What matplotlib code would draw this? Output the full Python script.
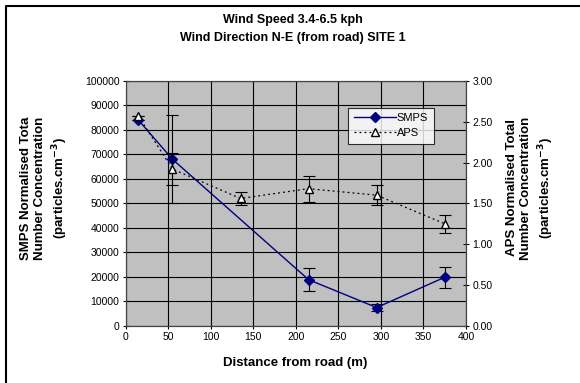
import matplotlib.pyplot as plt
from matplotlib.lines import Line2D

plt.rcParams['font.family'] = ['Liberation Sans', 'DejaVu Sans']

distance = [15, 55, 215, 295, 375]
smps = [84000, 68000, 18800, 7400, 19800]
smps_err = [0, 18000, 4600, 1500, 4200]

aps_distance = [15, 55, 135, 215, 295, 375]
aps = [2.57, 1.92, 1.56, 1.68, 1.60, 1.25]
aps_err = [0, 0.20, 0.085, 0.16, 0.12, 0.11]

x_ticks = list(range(0, 401, 50))
smps_ticks = list(range(0, 100001, 10000))
aps_ticks = [0.0, 0.5, 1.0, 1.5, 2.0, 2.5, 3.0]

fig = plt.figure(figsize=(5.8, 3.83), dpi=100)
ax = fig.add_axes([125.7 / 580, 1 - 325.7 / 383, (466 - 125.7) / 580, (325.7 - 81) / 383])
ax2 = ax.twinx()

ax.set_facecolor('#c0c0c0')
ax.set_xlim(0, 400)
ax.set_ylim(0, 100000)
ax2.set_ylim(0, 3)
ax.set_xticks(x_ticks)
ax.set_yticks(smps_ticks)
ax2.set_yticks(aps_ticks)
ax2.set_yticklabels(['%.2f' % v for v in aps_ticks])
ax.grid(True, color='black', linewidth=0.8)
ax.set_axisbelow(True)

for a in (ax, ax2):
    a.tick_params(direction='inout', length=5, width=0.8, labelsize=7.5, pad=2)
    for s in a.spines.values():
        s.set_color('#444444')

# SMPS on the left axis
ax.errorbar(distance, smps, yerr=smps_err, color='#000080', linewidth=1.0,
            marker='D', markersize=5, markerfacecolor='#000080', markeredgecolor='#000080',
            ecolor='black', elinewidth=0.8, capsize=4, capthick=0.8, zorder=3)

# APS on the right axis
ax2.errorbar(aps_distance, aps, yerr=aps_err, color='black', linewidth=0.9, linestyle=(0, (1.5, 2.5)),
             marker='^', markersize=6, markerfacecolor='white', markeredgecolor='black',
             ecolor='black', elinewidth=0.8, capsize=4, capthick=0.8, zorder=3)

fig.text(293 / 580, 1 - 20 / 383, 'Wind Speed 3.4-6.5 kph', ha='center', va='center',
         fontsize=9, fontweight='bold')
fig.text(293 / 580, 1 - 38 / 383, 'Wind Direction N-E (from road) SITE 1', ha='center', va='center',
         fontsize=9, fontweight='bold')

fig.text(45 / 580, 1 - 188 / 383,
         'SMPS Normalised Tota\nNumber Concentration\n(particles.cm$^{\\mathbf{-3}}$)',
         rotation=90, ha='center', va='center', fontsize=9.5, fontweight='bold', linespacing=1.3)
fig.text(531 / 580, 1 - 188 / 383,
         'APS Normalised Total\nNumber Concentration\n(particles.cm$^{\\mathbf{-3}}$)',
         rotation=90, ha='center', va='center', fontsize=9.5, fontweight='bold', linespacing=1.3)
fig.text(295 / 580, 1 - 363 / 383, 'Distance from road (m)', ha='center', va='center',
         fontsize=9.5, fontweight='bold')

handles = [
    Line2D([], [], color='#000080', linewidth=1.0, marker='D', markersize=5,
           markerfacecolor='#000080', markeredgecolor='#000080'),
    Line2D([], [], color='black', linewidth=0.9, linestyle=(0, (1.5, 2.5)), marker='^', markersize=6,
           markerfacecolor='white', markeredgecolor='black'),
]
leg = ax2.legend(handles, ['SMPS', 'APS'], loc='upper left',
                 bbox_to_anchor=((348 - 125.7) / 340.3, (325.7 - 107.7) / 244.7),
                 fontsize=8, frameon=True, fancybox=False, edgecolor='black',
                 handlelength=3.8, handletextpad=0.1, borderpad=0.5, labelspacing=0.45,
                 borderaxespad=0)
leg.get_frame().set_linewidth(0.8)

# outer chart border
fig.add_artist(Line2D([5.5 / 580, 5.5 / 580, 1], [0, 1 - 5.5 / 383, 1 - 5.5 / 383],
                      color='black', linewidth=1.5, transform=fig.transFigure))

fig.savefig('out.png', dpi=100)
